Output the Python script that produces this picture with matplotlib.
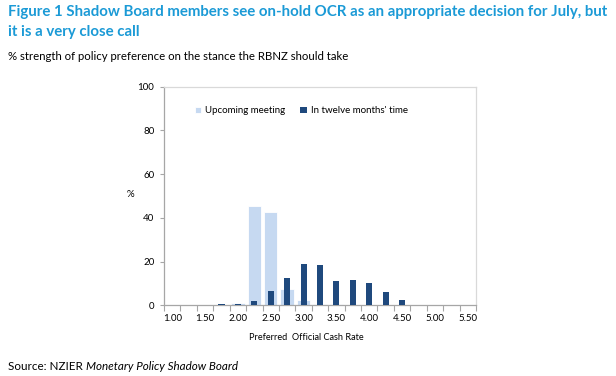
import matplotlib
matplotlib.use("Agg")
import matplotlib.pyplot as plt
import numpy as np

categories = ["1.00", "1.25", "1.50", "1.75", "2.00", "2.25", "2.50", "2.75", "3.00",
              "3.25", "3.50", "3.75", "4.00", "4.25", "4.50", "4.75", "5.00", "5.25", "5.50"]
upcoming = [0, 0, 0, 0, 1.2, 45.4, 42.8, 7.3, 2.4, 0.6, 0.6, 0, 0, 0, 0, 0, 0, 0, 0]
twelve_months = [0, 0, 0, 0.8, 0.8, 2.0, 6.7, 12.3, 18.9, 18.4, 11.3, 11.7, 10.2, 6.1, 2.3, 0, 0, 0, 0]
tick_labels = ["1.00", "1.50", "2.00", "2.50", "3.00", "3.50", "4.00", "4.50", "5.00", "5.50"]

plt.rcParams['font.family'] = ['Lato', 'DejaVu Sans']

fig = plt.figure(figsize=(6.16, 3.76), dpi=100)
ax = fig.add_axes([164/616, (376-305.3)/376, 312/616, (305.3-86.7)/376])

x = np.arange(len(categories))
light = "#c6d9f1"
dark = "#1f497d"
ax.bar(x, upcoming, width=0.82, color=light, edgecolor="white", linewidth=0.6,
       label="Upcoming meeting", zorder=2)
ax.bar(x, twelve_months, width=0.37, color=dark, label="In twelve months' time", zorder=3)

ax.set_xlim(-0.5, len(categories) - 0.5)
ax.set_ylim(0, 100)
ax.set_yticks([0, 20, 40, 60, 80, 100])
ax.set_xticks([i for i, c in enumerate(categories) if c in tick_labels])
ax.set_xticklabels(tick_labels)
ax.set_xticks(np.arange(-0.5, len(categories) + 0.5, 1), minor=True)
ax.tick_params(axis="x", which="major", length=0, labelsize=7, pad=6, colors="black")
ax.tick_params(axis="x", which="minor", length=4, color="#a6a6a6", width=0.8, direction="out")
ax.tick_params(axis="y", length=3, color="#a6a6a6", width=0.8, labelsize=7, pad=4)

for s in ["top", "right"]:
    ax.spines[s].set_color("#d9d9d9")
    ax.spines[s].set_linewidth(0.9)
for s in ["left", "bottom"]:
    ax.spines[s].set_color("#a6a6a6")
    ax.spines[s].set_linewidth(0.9)

ax.set_xlabel("Preferred  Official Cash Rate", fontsize=6.6)
ax.xaxis.set_label_coords((306 - 164) / 312, -(333 - 305.3) / (305.3 - 86.7))
fig.text(130/616, 1 - 195/376, "%", fontsize=7, ha="center", va="center")

ax.legend(loc="upper left", bbox_to_anchor=(0.07, 0.95), ncol=2, frameon=False,
          fontsize=7, handlelength=0.7, handleheight=0.7, handletextpad=0.4,
          columnspacing=1.5)

fig.text(8/616, 1 - 12/376, "Figure 1 Shadow Board members see on-hold OCR as an appropriate decision for July, but",
         fontsize=10.8, fontweight="bold", color="#1b9ad6", va="center", ha="left")
fig.text(8/616, 1 - 32/376, "it is a very close call",
         fontsize=10.8, fontweight="bold", color="#1b9ad6", va="center", ha="left")
fig.text(8/616, 1 - 57/376, "% strength of policy preference on the stance the RBNZ should take",
         fontsize=8.2, color="black", va="center", ha="left")
t1 = fig.text(8/616, 1 - 367/376, "Source: NZIER ", fontsize=8.4, va="center", ha="left")
fig.canvas.draw()
bb = t1.get_window_extent()
fig.text(bb.x1 / 616, 1 - 367/376, "Monetary Policy Shadow Board", fontsize=8.4, style="italic",
         va="center", ha="left")

fig.savefig("out.png", dpi=100)
